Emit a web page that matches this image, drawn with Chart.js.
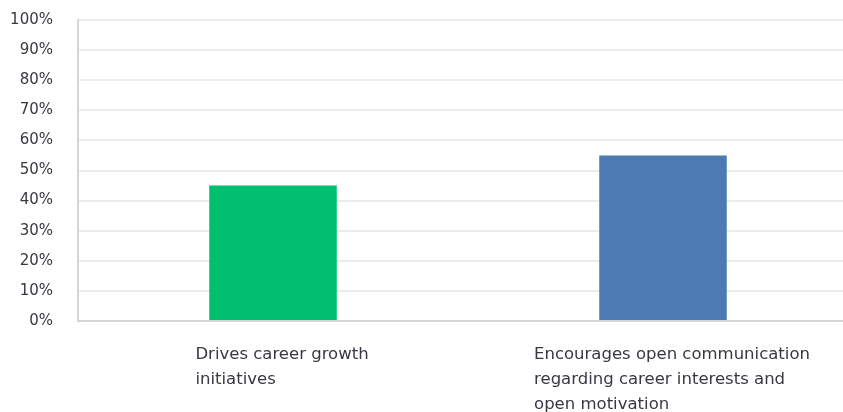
<!DOCTYPE html>
<html>
<head>
<meta charset="utf-8">
<script src="https://cdn.jsdelivr.net/npm/chart.js@4/dist/chart.umd.min.js"></script>
<style>
  html, body { margin: 0; padding: 0; background: #fff; overflow: hidden; }
  #wrap { width: 860px; height: 426px; margin-top: -14px; }
</style>
</head>
<body>
<div id="wrap"><canvas id="career-chart"></canvas></div>
<script>
const categories = [
  ['Drives career growth', 'initiatives'],
  ['Encourages open communication', 'regarding career interests and', 'open motivation']
];
const values = [45, 55];
const barColors = ['#00bf6f', '#4d7ab3'];
const yTicks = [0, 10, 20, 30, 40, 50, 60, 70, 80, 90, 100];

const textColor = '#383840';
const fontFamily = '"DejaVu Sans", Tahoma, sans-serif';

// x labels are left aligned as a block under each bar, so draw them ourselves
const leftLabels = {
  id: 'leftLabels',
  afterDraw(chart) {
    const ctx = chart.ctx;
    const xScale = chart.scales.x;
    ctx.save();
    ctx.font = '16.5px ' + fontFamily;
    ctx.fillStyle = textColor;
    ctx.textAlign = 'left';
    ctx.textBaseline = 'middle';
    categories.forEach((lines, i) => {
      const cx = xScale.getPixelForValue(i);
      const widest = Math.max(...lines.map(l => ctx.measureText(l).width));
      const x0 = cx - widest / 2 + 9;
      lines.forEach((line, j) => {
        ctx.fillText(line, x0, chart.chartArea.bottom + 34 + j * 25);
      });
    });
    ctx.restore();
  }
};

const chart = new Chart(document.getElementById('career-chart'), {
  type: 'bar',
  data: {
    labels: categories,
    datasets: [{
      data: values,
      backgroundColor: barColors,
      barPercentage: 0.327,
      categoryPercentage: 1
    }]
  },
  options: {
    responsive: true,
    maintainAspectRatio: false,
    animation: false,
    layout: { padding: { top: 0, bottom: 91, left: 0, right: 2 } },
    plugins: { legend: { display: false }, tooltip: { enabled: false } },
    scales: {
      x: {
        ticks: { display: false },
        grid: { display: false, drawTicks: false },
        border: { display: true, color: '#d6d6d6', width: 2 }
      },
      y: {
        min: 0,
        max: 100,
        afterFit(scale) { scale.width = 78; },
        afterBuildTicks(scale) { scale.ticks = yTicks.map(v => ({ value: v })); },
        ticks: {
          padding: 25,
          color: textColor,
          font: { family: fontFamily, size: 15 },
          callback: v => v + '%'
        },
        grid: { color: '#ececec', lineWidth: 2, drawTicks: false },
        border: { display: true, color: '#d6d6d6', width: 2 }
      }
    }
  },
  plugins: [leftLabels]
});
</script>
</body>
</html>
